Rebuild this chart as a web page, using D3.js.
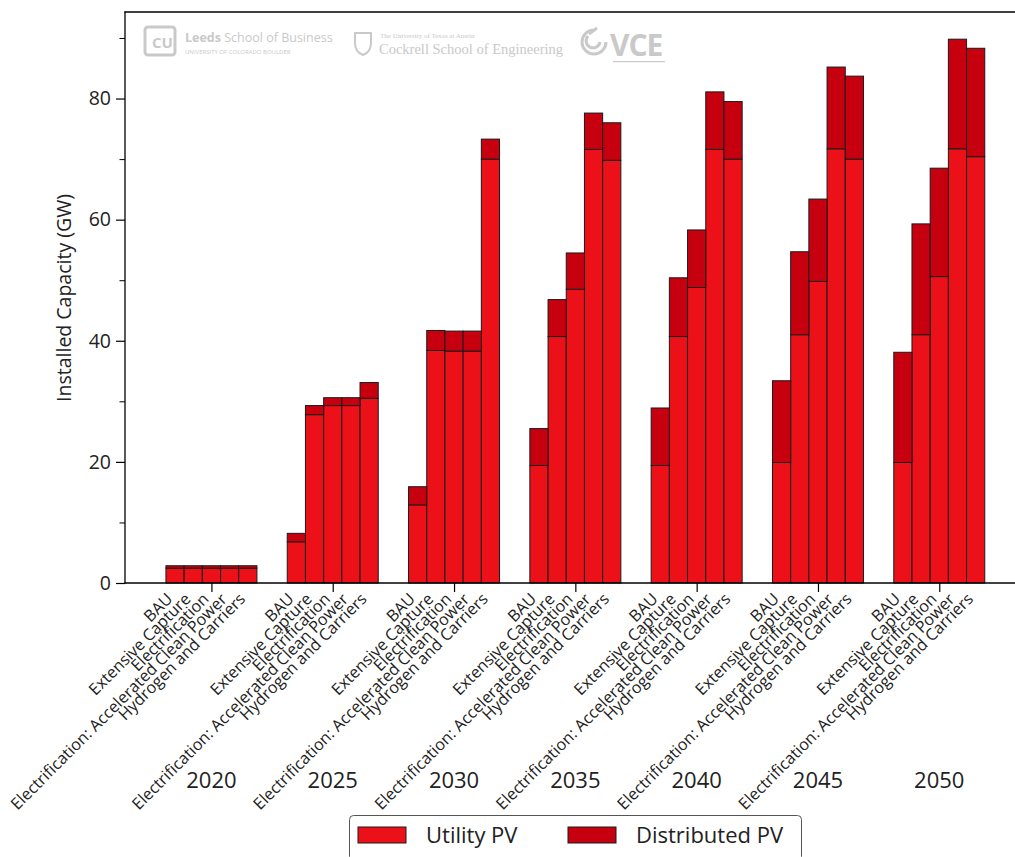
<!DOCTYPE html>
<html><head><meta charset="utf-8">
<script src="https://cdn.jsdelivr.net/npm/d3@7"></script>
<style>
body{margin:0;background:#fff}
svg{display:block}
text{font-family:"Open Sans",sans-serif}
</style>
</head><body>
<svg id="chart" width="1015" height="857"></svg>
<script>
const years = ["2020", "2025", "2030", "2035", "2040", "2045", "2050"];
const scenarios = ["BAU", "Extensive Capture", "Electrification",
  "Electrification: Accelerated Clean Power", "Hydrogen and Carriers"];
const seriesNames = ["Utility PV", "Distributed PV"];
const seriesColors = ["#ec1119", "#c6000f"];
// Installed capacity in GW, one row per year, one column per scenario
const utilityPV = [
  [2.45, 2.45, 2.45, 2.45, 2.45],
  [6.8, 27.8, 29.3, 29.3, 30.5],
  [12.9, 38.4, 38.3, 38.3, 70.0],
  [19.4, 40.7, 48.5, 71.6, 69.8],
  [19.4, 40.7, 48.8, 71.6, 70.0],
  [19.9, 41.0, 49.8, 71.7, 70.0],
  [19.9, 41.0, 50.6, 71.7, 70.4]
];
const distributedPV = [
  [0.4, 0.4, 0.4, 0.4, 0.4],
  [1.4, 1.5, 1.3, 1.3, 2.6],
  [3.0, 3.3, 3.3, 3.3, 3.3],
  [6.1, 6.1, 6.0, 6.0, 6.2],
  [9.5, 9.7, 9.5, 9.5, 9.5],
  [13.5, 13.7, 13.6, 13.5, 13.7],
  [18.2, 18.3, 17.9, 18.1, 17.9]
];
const yTicks = [0, 20, 40, 60, 80];
const yMinorTicks = [10, 30, 50, 70, 90];

const svg = d3.select("#chart");
const barW = 0.15;
const nS = scenarios.length;

// flat records for stacking
const records = [];
years.forEach((yr, i) => scenarios.forEach((sc, j) => {
  records.push({year: yr, yi: i, scenario: sc, sj: j,
    u: utilityPV[i][j], d: distributedPV[i][j]});
}));
const stack = d3.stack().keys(["u", "d"])(records);

const lo = -nS * barW / 2, hi = (years.length - 1) + nS * barW / 2;
const pad = (hi - lo) * 0.05;
const x = d3.scaleLinear().domain([lo - pad, hi + pad]).range([125, 1025.7]);
const yMax = d3.max(records, r => r.u + r.d) * 1.05;
const y = d3.scaleLinear().domain([0, yMax]).range([583, 12]);
const barX = r => r.yi + (r.sj - (nS - 1) / 2) * barW;

// logos band
const logoCol = "#c9c9c9";
const logo = svg.append("g").attr("fill", logoCol);
logo.append("rect").attr("x", 145).attr("y", 27).attr("width", 30).attr("height", 28)
  .attr("fill", "none").attr("stroke", logoCol).attr("stroke-width", 3).attr("rx", 3);
logo.append("text").attr("x", 152).attr("y", 48).attr("font-size", 15).attr("font-weight", 700).text("CU");
logo.append("text").attr("x", 185).attr("y", 42).attr("font-size", 12.5)
  .html('<tspan font-weight="700">Leeds</tspan> School of Business');
logo.append("text").attr("x", 185).attr("y", 54).attr("font-size", 6).text("UNIVERSITY OF COLORADO BOULDER");
logo.append("path").attr("d", "M355,33 h16 v10 q0,9 -8,12 q-8,-3 -8,-12 z")
  .attr("fill", "none").attr("stroke", logoCol).attr("stroke-width", 2);
logo.append("text").attr("x", 380).attr("y", 38).attr("font-size", 7)
  .style("font-family", "'Liberation Serif',serif").text("The University of Texas at Austin");
logo.append("text").attr("x", 379).attr("y", 54).attr("font-size", 14.5)
  .style("font-family", "'Liberation Serif',serif").text("Cockrell School of Engineering");
logo.append("path").attr("d", "M594,30 a12,12 0 1,0 12,12 M588,36 a7,7 0 1,0 12,6 M597,28 l-8,6")
  .attr("fill", "none").attr("stroke", logoCol).attr("stroke-width", 3);
logo.append("text").attr("x", 610).attr("y", 56).attr("font-size", 30).attr("font-weight", 700)
  .attr("letter-spacing", -1).text("VCE");
logo.append("rect").attr("x", 613).attr("y", 61).attr("width", 52).attr("height", 1.2);

// bars
const layers = svg.append("g");
stack.forEach((layer, k) => {
  layers.append("g").attr("fill", seriesColors[k]).attr("stroke", "#1a1a1a").attr("stroke-width", 1)
    .selectAll("rect").data(layer).join("rect")
    .attr("x", d => x(barX(d.data) - barW / 2))
    .attr("width", d => x(barW) - x(0))
    .attr("y", d => y(d[1]))
    .attr("height", d => y(d[0]) - y(d[1]));
});

// spines
const frame = svg.append("g").attr("stroke", "#000").attr("stroke-width", 1.3).attr("fill", "none");
frame.append("line").attr("x1", 125).attr("x2", 125).attr("y1", 11.5).attr("y2", 583.5);
frame.append("line").attr("x1", 124.5).attr("x2", 1015).attr("y1", 583).attr("y2", 583);
frame.append("line").attr("x1", 124.5).attr("x2", 1015).attr("y1", 12).attr("y2", 12);

// y axis
const yAxis = svg.append("g").attr("transform", "translate(125,0)")
  .call(d3.axisLeft(y).tickValues(yTicks).tickSize(9).tickPadding(5).tickFormat(d3.format("d")));
yAxis.select(".domain").remove();
yAxis.selectAll("line").attr("stroke", "#000").attr("stroke-width", 1.2);
yAxis.selectAll("text").attr("font-size", 19.5).attr("fill", "#222").style("font-family", "'Open Sans',sans-serif");
const yMinor = svg.append("g").attr("transform", "translate(125,0)")
  .call(d3.axisLeft(y).tickValues(yMinorTicks).tickSize(5.5).tickFormat(""));
yMinor.select(".domain").remove();
yMinor.selectAll("line").attr("stroke", "#000").attr("stroke-width", 1);

svg.append("text").attr("transform", "translate(71,298) rotate(-90)")
  .attr("text-anchor", "middle").attr("font-size", 19.5).attr("fill", "#222")
  .text("Installed Capacity (GW)");

// x axis: year ticks and labels
const xAxis = svg.append("g").attr("transform", "translate(0,583)")
  .call(d3.axisBottom(x).tickValues(years.map((_, i) => i)).tickSize(9).tickFormat(""));
xAxis.select(".domain").remove();
xAxis.selectAll("line").attr("stroke", "#000").attr("stroke-width", 1.2);
svg.append("g").selectAll("text").data(years).join("text")
  .attr("x", (d, i) => x(i)).attr("y", 788)
  .attr("text-anchor", "middle").attr("font-size", 22).attr("fill", "#222").text(d => d);

// rotated scenario labels, right edge of each rotated box under its bar
const scLabels = svg.append("g");
records.forEach(r => {
  const g = scLabels.append("g");
  g.append("text").attr("transform", "rotate(-45)").attr("text-anchor", "end")
    .attr("font-size", 16.2).attr("fill", "#222").text(r.scenario);
  const bb = g.node().getBBox();
  g.attr("transform", `translate(${x(barX(r)) + 2 - (bb.x + bb.width)},${588 - bb.y})`);
});

// legend
const leg = svg.append("g");
leg.append("rect").attr("x", 349.5).attr("y", 815.5).attr("width", 452).attr("height", 45)
  .attr("rx", 4).attr("fill", "#fff").attr("stroke", "#555").attr("stroke-width", 1);
const legX = [358, 568], legTX = [426, 636];
seriesNames.forEach((name, k) => {
  leg.append("rect").attr("x", legX[k]).attr("y", 827).attr("width", 48).attr("height", 16)
    .attr("fill", seriesColors[k]).attr("stroke", "#1a1a1a").attr("stroke-width", 1);
  leg.append("text").attr("x", legTX[k]).attr("y", 843).attr("font-size", 22)
    .attr("fill", "#222").text(name);
});
</script>
</body></html>
